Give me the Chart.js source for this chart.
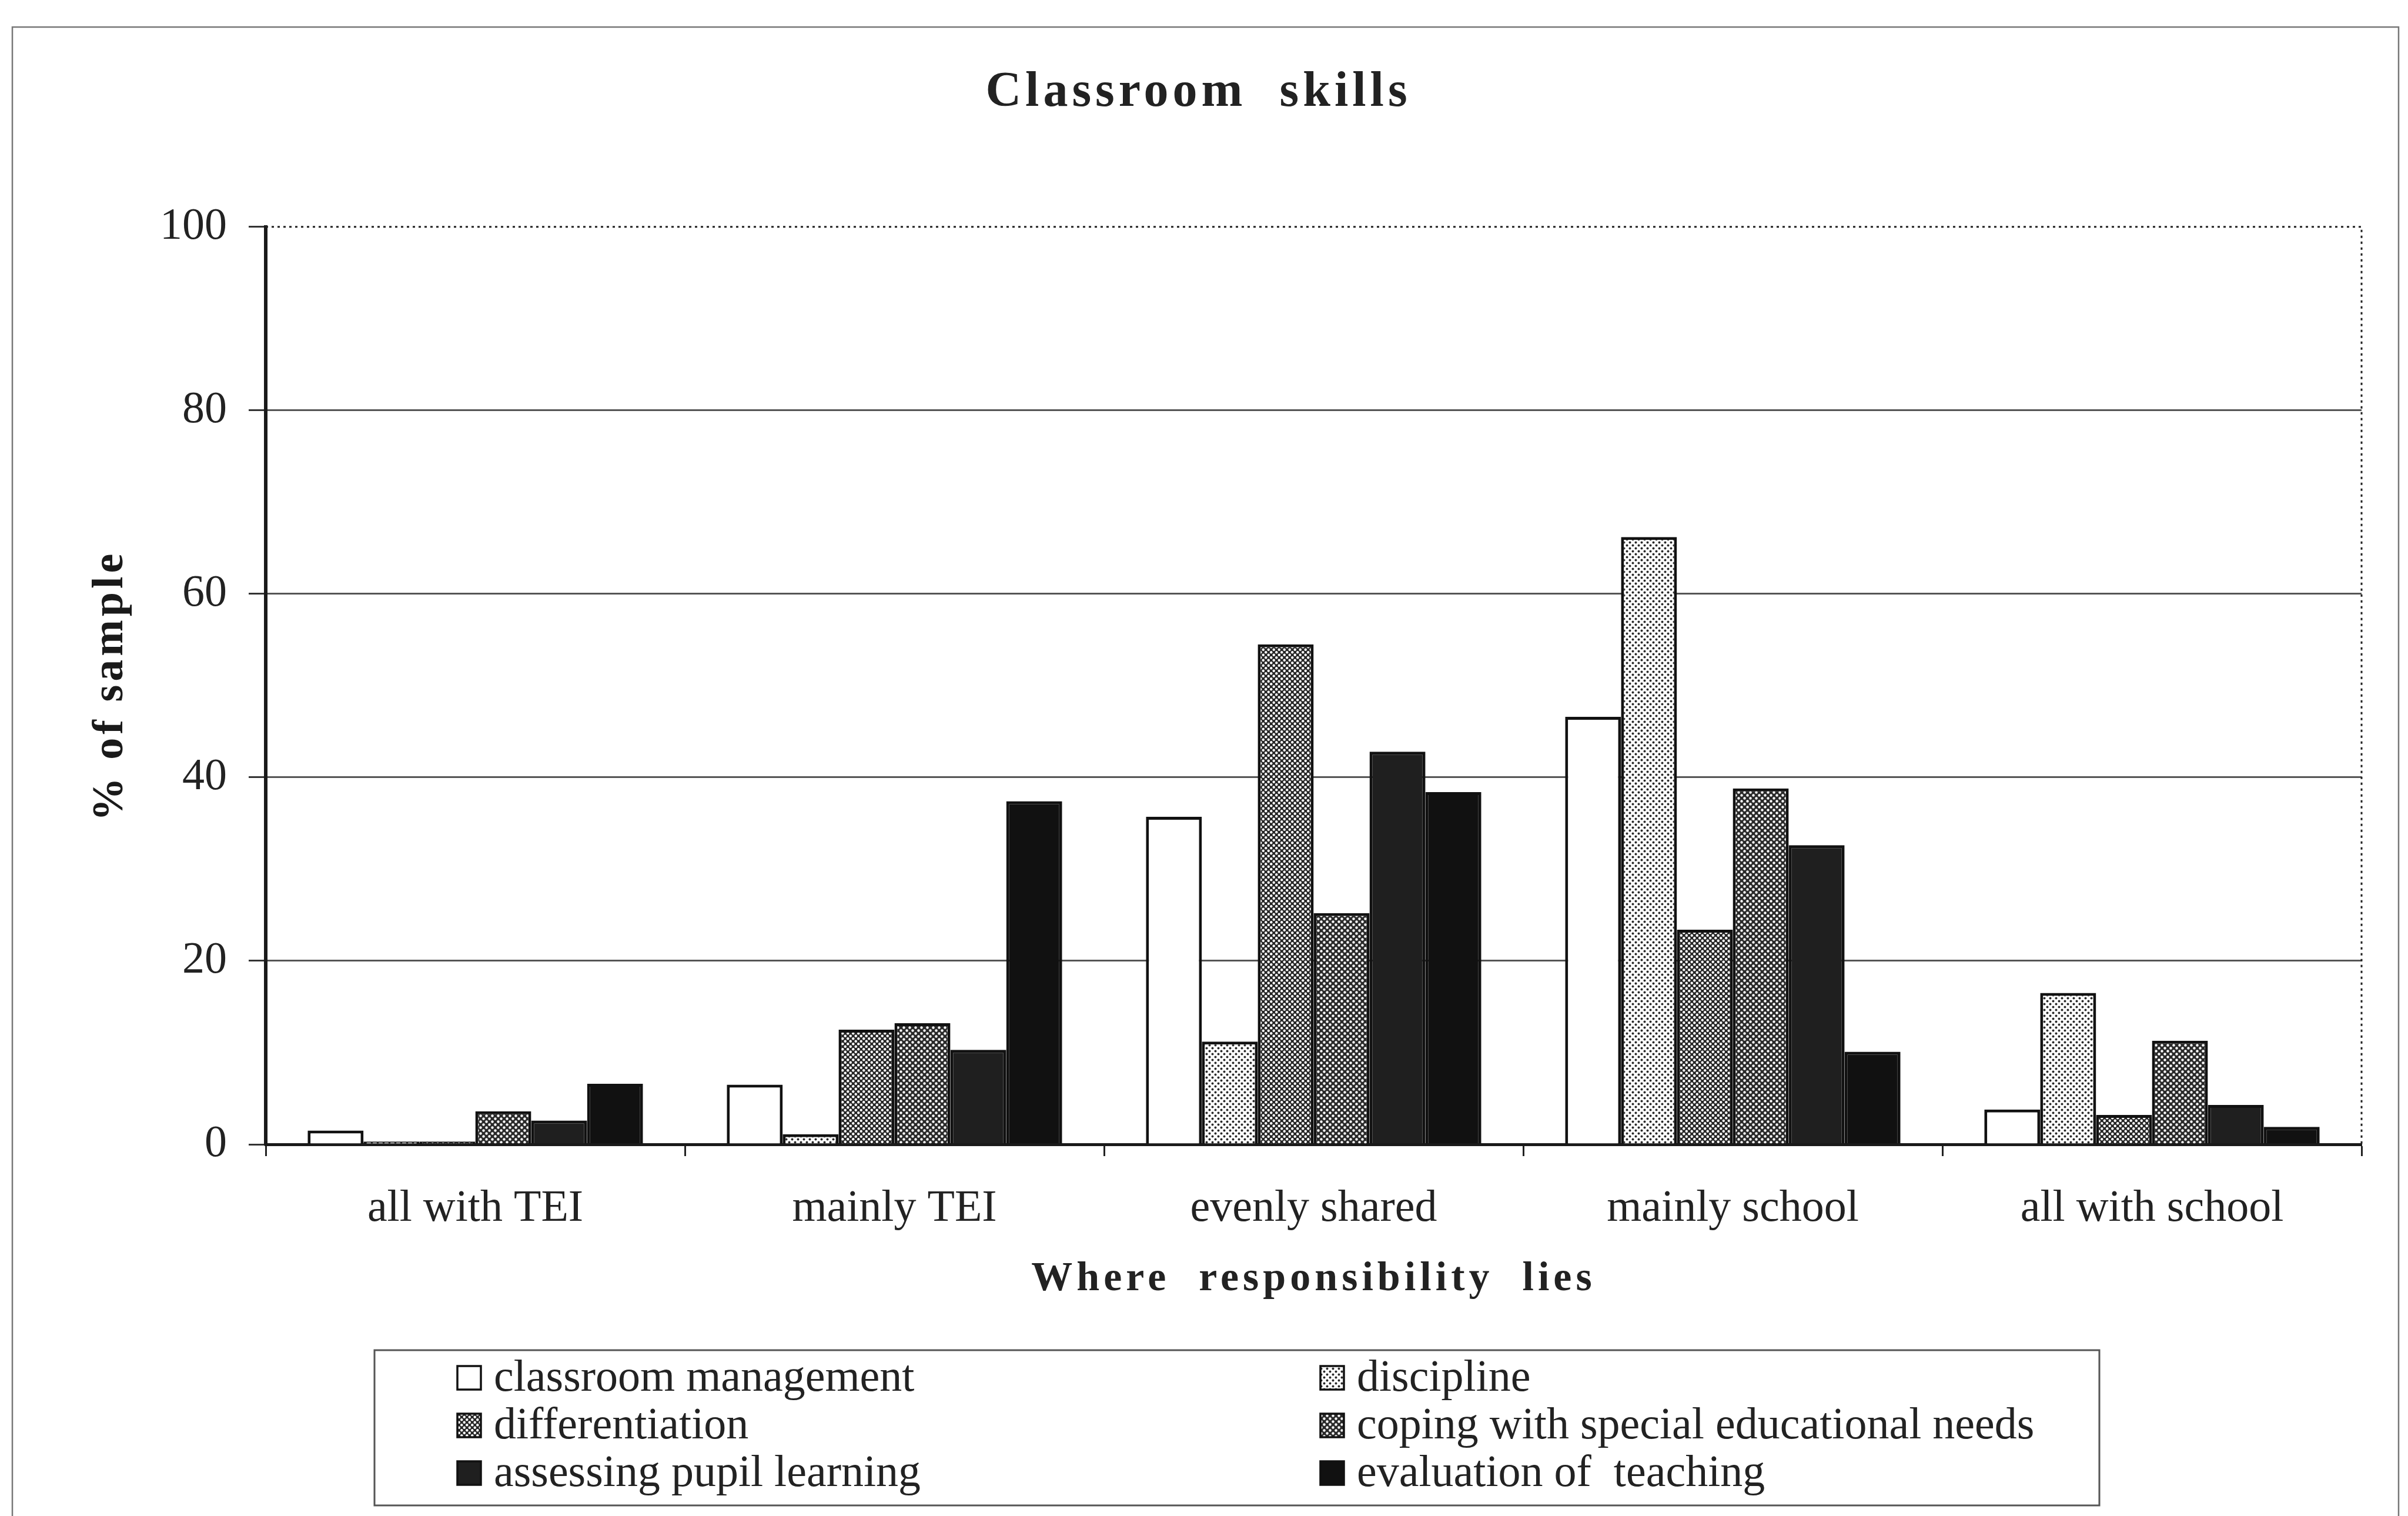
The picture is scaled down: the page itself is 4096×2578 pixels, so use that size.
<!DOCTYPE html>
<html lang="en">
<head>
    <meta charset="UTF-8">
    <title>Classroom skills</title>
    <style>
        html, body { margin: 0; padding: 0; background: #fff; }
        #chart { display: block; }
    </style>
</head>
<body>
    <canvas id="chart" width="4096" height="2578" style="width:4096px;height:2578px"></canvas>
    <script src="https://cdn.jsdelivr.net/npm/chart.js"></script>
    <script>
        // Where responsibility lies, % of sample per skill
        const categories = ['all with TEI', 'mainly TEI', 'evenly shared', 'mainly school', 'all with school'];
        const classroomManagement = [1.5, 6.5, 35.7, 46.6, 3.8];
        const discipline = [0.3, 1.1, 11.2, 66.2, 16.5];
        const differentiation = [0.3, 12.5, 54.5, 23.4, 3.2];
        const specialNeeds = [3.6, 13.2, 25.2, 38.8, 11.3];
        const assessingLearning = [2.6, 10.3, 42.8, 32.6, 4.3];
        const evaluationTeaching = [6.6, 37.4, 38.4, 10.1, 1.9];
        const yTicks = [0, 20, 40, 60, 80, 100];

        const seriesNames = [
            'classroom management',
            'discipline',
            'differentiation',
            'coping with special educational needs',
            'assessing pupil learning',
            'evaluation of  teaching'
        ];

        const SERIF = "'Liberation Serif', 'Times New Roman', serif";
        Chart.defaults.font.family = SERIF;
        Chart.defaults.color = '#222';

        // small repeating dot screens for the bar fills
        function dotPattern(size, bg, dot, r) {
            const tile = document.createElement('canvas');
            tile.width = size;
            tile.height = size;
            const t = tile.getContext('2d');
            t.fillStyle = bg;
            t.fillRect(0, 0, size, size);
            t.fillStyle = dot;
            [[size / 4, size / 4], [size * 3 / 4, size * 3 / 4]].forEach(([x, y]) => {
                t.beginPath();
                t.arc(x, y, r, 0, Math.PI * 2);
                t.fill();
            });
            return document.createElement('canvas').getContext('2d').createPattern(tile, 'repeat');
        }

        const fills = [
            '#ffffff',
            dotPattern(10, '#ffffff', '#2a2a2a', 2.0),
            dotPattern(9, '#262626', '#ffffff', 2.2),
            dotPattern(10, '#2a2a2a', '#ffffff', 2.2),
            '#1f1f1f',
            '#111111'
        ];
        const values = [classroomManagement, discipline, differentiation, specialNeeds, assessingLearning, evaluationTeaching];

        // legend box geometry
        const legendLayout = {
            left: 637, top: 2296, right: 3571, bottom: 2560,
            columns: [778, 2246], rows: [2343, 2424, 2505],
            swatch: 40, textGap: 22
        };

        // Chart.js has no letter-spacing option, so wrap the heading draw calls
        function spaceOut(obj, method, px) {
            const orig = obj[method];
            obj[method] = function (...args) {
                const ctx = this.ctx;
                const prev = ctx.letterSpacing;
                ctx.letterSpacing = px + 'px';
                orig.apply(this, args);
                ctx.letterSpacing = prev;
            };
        }

        const spacedHeadings = {
            id: 'spacedHeadings',
            afterUpdate(chart) {
                if (chart.$spaced) return;
                chart.$spaced = true;
                spaceOut(chart.titleBlock, 'draw', 7);
                spaceOut(chart.scales.x, 'drawTitle', 7);
                spaceOut(chart.scales.y, 'drawTitle', 6);
            }
        };

        // outer frame plus the dotted top/right edge of the plot
        const frame = {
            id: 'frame',
            beforeDraw(chart) {
                const ctx = chart.ctx;
                ctx.save();
                ctx.strokeStyle = '#777';
                ctx.lineWidth = 2.5;
                ctx.beginPath();
                ctx.moveTo(21, chart.height + 10);
                ctx.lineTo(21, 46);
                ctx.lineTo(4080, 46);
                ctx.lineTo(4080, chart.height + 10);
                ctx.stroke();
                ctx.restore();
            },
            beforeDatasetsDraw(chart) {
                const {ctx, chartArea: a} = chart;
                ctx.save();
                ctx.strokeStyle = '#222';
                ctx.lineWidth = 3;
                ctx.setLineDash([4, 6]);
                ctx.beginPath();
                ctx.moveTo(a.left, a.top);
                ctx.lineTo(a.right, a.top);
                ctx.lineTo(a.right, a.bottom);
                ctx.stroke();
                ctx.restore();
            }
        };

        const boxLegend = {
            id: 'boxLegend',
            afterDraw(chart) {
                const ctx = chart.ctx;
                const L = legendLayout;
                ctx.save();
                ctx.strokeStyle = '#555';
                ctx.lineWidth = 3;
                ctx.strokeRect(L.left, L.top, L.right - L.left, L.bottom - L.top);
                ctx.font = '76px ' + SERIF;
                ctx.textBaseline = 'middle';
                ctx.textAlign = 'left';
                chart.data.datasets.forEach((ds, i) => {
                    const x = L.columns[i % 2];
                    const y = L.rows[Math.floor(i / 2)];
                    ctx.fillStyle = ds.backgroundColor;
                    ctx.fillRect(x, y - L.swatch / 2, L.swatch, L.swatch);
                    ctx.strokeStyle = '#111';
                    ctx.lineWidth = 3.5;
                    ctx.strokeRect(x, y - L.swatch / 2, L.swatch, L.swatch);
                    ctx.fillStyle = '#222';
                    ctx.fillText(ds.label, x + L.swatch + L.textGap, y + 2);
                });
                ctx.restore();
            }
        };

        const ctx = document.getElementById('chart').getContext('2d');
        new Chart(ctx, {
            type: 'bar',
            data: {
                labels: categories,
                datasets: values.map((data, i) => ({
                    label: seriesNames[i],
                    data: data,
                    backgroundColor: fills[i],
                    borderColor: '#111',
                    borderWidth: 5,
                    categoryPercentage: 0.8,
                    barPercentage: 1.0
                }))
            },
            options: {
                responsive: false,
                devicePixelRatio: 1,
                animation: false,
                layout: {
                    padding: {left: 60, right: 79, top: 0, bottom: 318}
                },
                plugins: {
                    legend: {display: false},
                    tooltip: {enabled: false},
                    title: {
                        display: true,
                        text: 'Classroom  skills',
                        color: '#222',
                        font: {size: 84, weight: 'bold', lineHeight: 1.2},
                        padding: {top: 108, bottom: 177}
                    }
                },
                scales: {
                    x: {
                        afterFit: s => { s.height = 314; },
                        grid: {
                            offset: true,
                            drawOnChartArea: false,
                            drawTicks: true,
                            tickLength: 20,
                            tickColor: '#222',
                            tickWidth: 3,
                            color: '#222'
                        },
                        border: {display: true, color: '#1a1a1a', width: 5},
                        ticks: {
                            font: {size: 76},
                            color: '#222',
                            padding: 44,
                            maxRotation: 0,
                            autoSkip: false
                        },
                        title: {
                            display: true,
                            text: 'Where  responsibility  lies',
                            color: '#222',
                            font: {size: 70, weight: 'bold', lineHeight: 1.2},
                            padding: {top: 0, bottom: 42}
                        }
                    },
                    y: {
                        min: 0,
                        max: 100,
                        afterFit: s => { s.width = 392; },
                        afterBuildTicks: s => { s.ticks = yTicks.map(v => ({value: v})); },
                        grid: {
                            color: c => (c.tick && c.tick.value === 100) ? 'rgba(0,0,0,0)' : '#555',
                            lineWidth: 3,
                            tickLength: 29,
                            tickColor: '#333',
                            tickWidth: 3
                        },
                        border: {display: true, color: '#1a1a1a', width: 6},
                        ticks: {
                            font: {size: 76},
                            color: '#222',
                            padding: 37
                        },
                        title: {
                            display: true,
                            text: '% of sample',
                            color: '#1a1a1a',
                            font: {size: 74, weight: 'bold', lineHeight: 1.2},
                            padding: {top: 84, bottom: 0}
                        }
                    }
                }
            },
            plugins: [spacedHeadings, frame, boxLegend]
        });
    </script>
</body>
</html>
